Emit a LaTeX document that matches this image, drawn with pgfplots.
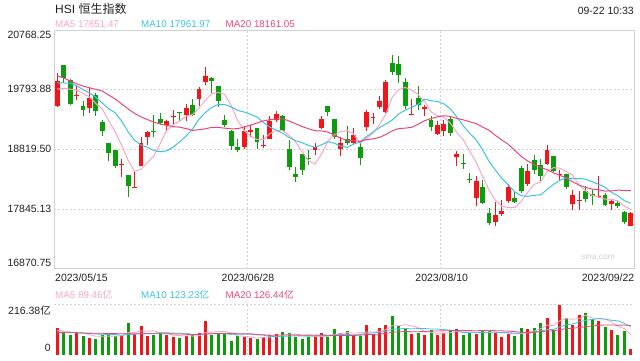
\documentclass[border=0pt]{standalone}
\usepackage{pgfplots}
\pgfplotsset{compat=1.18}
\usepackage{pgfplotstable}
\usepackage{fontspec}
\setmainfont{Liberation Sans}
\newfontfamily\cjk{Noto Sans CJK SC}
\definecolor{cup}{HTML}{F0161A}
\definecolor{cdn}{HTML}{0C9C0C}
\definecolor{cma5}{HTML}{F9A6C4}
\definecolor{cma10}{HTML}{3CC2E6}
\definecolor{cma20}{HTML}{E9477C}
\definecolor{cgrid}{HTML}{D2D2D2}
\definecolor{ctxt}{HTML}{222222}

% up (red) candles: index open high low close
\pgfplotstableread{
i O H L C
0 19521 20067 19505 19941
3 19700 19848 19631 19714
5 19495 19822 19413 19658
10 18560 18662 18362 18574
12 18190 18460 18190 18204
13 18553 19022 18541 18924
14 19015 19124 18896 19097
17 19222 19304 19097 19276
18 19352 19456 19239 19366
20 19374 19565 19276 19495
22 19642 19838 19521 19805
23 19913 20165 19876 20023
29 18852 19206 18830 19124
30 19097 19222 19022 19141
32 18876 19059 18842 18890
33 18994 19358 18994 19288
34 19293 19451 19260 19397
40 18803 18924 18732 18858
41 19168 19369 19152 19320
44 18826 19022 18705 18924
46 18924 19168 18912 19059
48 19178 19467 19113 19423
49 19334 19413 19239 19348
50 19505 19685 19479 19614
51 19423 19946 19413 19913
55 19384 19647 19384 19398
57 19479 19549 19358 19511
59 19071 19276 19059 19222
60 19124 19304 19031 19239
62 18695 18786 18553 18749
65 18025 18390 17900 18308
68 17627 17954 17562 17753
69 17764 17998 17725 17818
70 17981 18254 17944 18199
73 18259 18581 18226 18471
76 18586 18896 18569 18814
78 18394 18488 18324 18422
80 17932 18161 17834 18079
81 17982 18133 17834 17996
84 18042 18378 18025 18063
86 17932 17998 17823 17970
89 17573 17790 17562 17780
}\up

% down (green) candles
\pgfplotstableread{
i O H L C
1 20191 20202 19908 19985
2 19957 19969 19538 19565
4 19533 19603 19358 19456
6 19701 19740 19369 19440
7 19266 19293 19043 19113
8 18924 18924 18623 18760
9 18814 18814 18515 18541
11 18401 18401 18042 18226
15 19120 19374 19022 19106
16 19320 19413 19222 19250
19 19435 19435 19276 19413
21 19549 19642 19358 19386
24 19985 20001 19740 19929
25 19859 19859 19511 19603
26 19304 19374 19178 19222
27 19124 19141 18803 18879
28 18852 18994 18770 18814
31 19168 19168 18830 18933
35 19358 19386 19113 19124
36 18830 18977 18476 18532
37 18422 18532 18280 18362
38 18749 18749 18406 18488
39 18670 18814 18569 18656
42 19533 19533 19369 19423
43 19320 19320 18989 19022
45 18989 19206 18896 18924
47 18858 18924 18558 18679
52 20230 20365 20039 20076
53 20219 20338 19903 20027
54 19913 19985 19479 19521
56 19658 19859 19467 19549
58 19304 19369 19113 19178
61 19320 19358 19043 19087
63 18592 18744 18504 18578
64 18341 18434 18270 18313
66 18199 18324 17932 17944
67 17780 17862 17589 17617
71 18025 18133 17944 17954
72 18515 18553 18107 18133
74 18651 18732 18422 18476
75 18569 18662 18308 18378
77 18716 18716 18443 18460
79 18422 18422 18172 18205
82 18133 18215 17954 18009
83 18096 18161 17916 18052
85 18068 18107 17900 17916
87 17944 17970 17862 17888
88 17790 17818 17606 17633
}\down

% price moving averages
\pgfplotstableread{
i m5 m10 m20
0 19805 19903 20022
1 19815 19903 19985
2 19800 19900 19935
3 19785 19860 19890
4 19732 19794 19852
5 19675 19740 19825
6 19566 19668 19798
7 19476 19576 19770
8 19285 19480 19705
9 19102 19417 19640
10 18885 19280 19560
11 18642 19104 19480
12 18460 18968 19405
13 18492 18889 19350
14 18604 18853 19305
15 18711 18798 19262
16 18916 18779 19232
17 19131 18795 19210
18 19218 18855 19190
19 19282 18943 19180
20 19359 19035 19158
21 19386 19151 19128
22 19492 19312 19140
23 19624 19421 19155
24 19728 19505 19179
25 19749 19554 19176
26 19716 19551 19165
27 19531 19512 19154
28 19289 19457 19156
29 19128 19428 19185
30 19036 19393 19214
31 18978 19347 19249
32 18980 19256 19284
33 19075 19182 19302
34 19129 19129 19317
35 19126 19081 19318
36 19046 19012 19282
37 18941 18960 19236
38 18781 18928 19192
39 18634 18882 19155
40 18580 18853 19123
41 18738 18892 19120
42 18950 18945 19101
43 19057 18919 19051
44 19109 18872 19000
45 19123 18852 18966
46 19070 18904 18958
47 18922 18936 18948
48 19002 19029 18979
49 19086 19098 18990
50 19224 19173 19013
51 19395 19233 19062
52 19674 19298 19122
53 19795 19399 19159
54 19830 19458 19165
55 19787 19506 19179
56 19714 19555 19229
57 19601 19638 19287
58 19431 19613 19321
59 19371 19601 19349
60 19340 19563 19368
61 19247 19481 19357
62 19095 19348 19323
63 18976 19203 19301
64 18794 19083 19270
65 18608 18974 19240
66 18379 18813 19184
67 18153 18624 19131
68 17987 18481 19047
69 17888 18341 18971
70 17866 18237 18900
71 17868 18124 18802
72 17971 18062 18705
73 18115 18051 18627
74 18247 18067 18575
75 18282 18074 18524
76 18454 18161 18487
77 18520 18246 18435
78 18510 18313 18397
79 18456 18351 18346
80 18396 18339 18288
81 18231 18343 18233
82 18141 18331 18196
83 18067 18289 18170
84 18039 18247 18157
85 18006 18201 18138
86 18002 18117 18139
87 17978 18060 18153
88 17894 17981 18147
89 17837 17938 18145
}\ma

% volume (100 million), up days
\pgfplotstableread{
i v
0 114.5
3 91.9
5 73.5
10 80.6
12 89.0
13 123.0
14 80.6
17 84.8
18 77.7
20 80.6
22 91.9
23 144.2
29 77.7
30 73.5
32 74.9
33 83.4
34 89.0
40 77.7
41 94.7
44 91.9
46 84.8
48 127.2
49 87.6
50 114.5
51 127.2
55 89.0
57 84.8
59 84.8
60 91.9
62 110.2
65 89.0
68 94.7
69 76.3
70 89.0
73 110.2
76 156.9
78 212.0
80 127.2
81 169.6
84 144.2
86 106.0
89 25.4
}\vup

% volume, down days
\pgfplotstableread{
i v
1 96.1
2 84.8
4 80.6
6 67.8
7 84.8
8 93.3
9 80.6
11 135.7
15 84.8
16 91.9
19 72.1
21 84.8
24 84.8
25 89.0
26 91.9
27 59.4
28 80.6
31 67.8
35 99.0
36 93.3
37 76.3
38 67.8
39 76.3
42 77.7
43 110.2
45 101.8
47 82.0
52 165.4
53 124.4
54 110.2
56 93.3
58 106.0
61 106.0
63 84.8
64 94.7
66 103.2
67 103.2
71 80.6
72 114.5
74 114.5
75 137.1
77 106.0
79 156.9
82 179.5
83 151.3
85 120.2
87 84.8
88 103.2
}\vdn

% volume moving averages
\pgfplotstableread{
i v5 v10 v20
0 105.0 98.0 95.0
1 102.0 97.0 95.0
2 98.0 96.0 94.0
3 95.0 95.0 94.0
4 93.6 93.0 93.0
5 85.4 91.0 93.0
6 79.7 89.0 92.0
7 79.7 88.0 92.0
8 80.0 87.0 91.0
9 80.0 86.8 91.0
10 81.4 83.4 90.0
11 95.0 87.4 90.0
12 95.8 87.8 90.0
13 101.8 90.9 90.0
14 101.8 90.9 90.0
15 102.6 92.0 90.0
16 93.9 94.4 90.0
17 93.0 94.4 90.0
18 84.0 92.9 89.5
19 82.3 92.0 89.4
20 81.4 92.0 87.7
21 80.0 86.9 87.2
22 81.4 87.2 87.5
23 94.7 89.3 90.1
24 97.3 89.8 90.4
25 98.9 90.2 91.1
26 100.4 90.2 92.3
27 93.9 87.6 91.0
28 81.1 87.9 90.4
29 79.7 88.5 90.3
30 76.6 87.8 89.9
31 71.8 86.1 86.5
32 74.9 84.4 85.8
33 75.5 78.3 83.8
34 77.7 78.7 84.3
35 82.8 79.7 85.0
36 87.9 79.9 85.1
37 88.2 81.6 84.6
38 85.1 80.3 84.1
39 82.5 80.1 84.3
40 78.3 80.6 84.2
41 78.6 83.2 84.7
42 78.8 83.5 84.0
43 87.3 86.2 82.3
44 90.4 86.5 82.6
45 95.3 86.8 83.3
46 93.3 85.9 82.9
47 94.1 86.5 84.1
48 97.5 92.4 86.4
49 96.7 93.6 86.9
50 99.2 97.2 88.9
51 107.7 100.5 91.9
52 124.4 109.3 96.4
53 123.8 110.7 98.5
54 128.3 112.5 99.5
55 123.2 111.2 99.0
56 116.5 112.1 99.0
57 100.3 112.4 99.5
58 96.7 110.2 101.3
59 91.6 110.0 101.8
60 92.2 107.7 102.5
61 94.7 105.6 103.1
62 99.8 100.1 104.7
63 95.5 96.1 103.4
64 97.5 94.6 103.6
65 96.9 94.6 102.9
66 96.4 95.5 103.8
67 95.0 97.4 104.9
68 97.0 96.3 103.3
69 93.3 95.4 102.7
70 93.3 95.1 101.4
71 88.8 92.6 99.1
72 91.0 93.0 96.6
73 94.1 95.5 95.8
74 101.8 97.5 96.1
75 111.4 102.3 98.5
76 126.6 107.7 101.6
77 124.9 108.0 102.7
78 145.3 119.7 108.0
79 153.8 127.8 111.6
80 151.8 131.6 113.4
81 154.3 140.5 116.6
82 169.0 147.0 120.0
83 156.9 151.1 123.3
84 154.4 154.1 125.8
85 153.0 152.4 127.4
86 140.2 147.3 127.5
87 121.3 145.2 126.6
88 111.7 134.3 127.0
89 87.9 121.1 124.5
}\vma

\pgfplotsset{
  panel/.style={
    scale only axis, anchor=south west,
    xmin=-0.5, xmax=89.5,
    xtick={29.5,59.5},
    xticklabels={,,}, yticklabels={,,,},
    tick label style={opacity=0},
    major tick length=0pt,
    scaled y ticks=false, scaled x ticks=false,
    xmajorgrids, ymajorgrids,
    grid style={draw=cgrid, line width=0.9pt, dash pattern=on 2pt off 2pt},
  },
  wick/.style={draw=none, mark=none, forget plot,
    error bars/.cd, y dir=plus, y explicit, error mark=none,
    error bar style={draw=#1, line width=0.9pt, solid}},
  body/.style={draw=none, mark=none, forget plot,
    error bars/.cd, y dir=plus, y explicit, error mark=none,
    error bar style={draw=#1, line width=4.8pt, solid}},
}

\begin{document}
\begin{tikzpicture}[x=1pt,y=1pt]
\useasboundingbox (0,0) rectangle (640,360);

% price panel
\begin{axis}[panel,
  at={(54pt,91.4pt)}, width=580pt, height=238.6pt,
  ymin=16870.75, ymax=20768.25,
  ytick={17845.13,18819.50,19793.88},
  axis line style={draw=cgrid, line width=0.9pt},
]
\addplot[wick=cup] table[x=i, y=L, y error plus expr=\thisrow{H}-\thisrow{L}] {\up};
\addplot[wick=cdn] table[x=i, y=L, y error plus expr=\thisrow{H}-\thisrow{L}] {\down};
\addplot[body=cup] table[x=i, y=O, y error plus expr=\thisrow{C}-\thisrow{O}] {\up};
\addplot[body=cdn] table[x=i, y=C, y error plus expr=\thisrow{O}-\thisrow{C}] {\down};
\addplot[cma5, line width=1pt, mark=none] table[x=i, y=m5] {\ma};
\addplot[cma10, line width=1pt, mark=none] table[x=i, y=m10] {\ma};
\addplot[cma20, line width=1pt, mark=none] table[x=i, y=m20] {\ma};
\end{axis}

% volume panel
\begin{axis}[panel,
  at={(54pt,5pt)}, width=580pt, height=51pt,
  ymin=0, ymax=216.38,
  ytick={216.38},
  axis line style={draw=none},
]
\addplot[ycomb, cup, line width=3pt, mark=none] table[x=i, y=v] {\vup};
\addplot[ycomb, cdn, line width=3pt, mark=none] table[x=i, y=v] {\vdn};
\addplot[cma5, line width=0.8pt, mark=none] table[x=i, y=v5] {\vma};
\addplot[cma10, line width=0.8pt, mark=none] table[x=i, y=v10] {\vma};
\addplot[cma20, line width=0.8pt, mark=none] table[x=i, y=v20] {\vma};
\end{axis}

% texts
\begin{scope}[every node/.style={inner sep=0pt, text=ctxt}]
\node[anchor=west, font=\fontsize{12}{14}\selectfont] at (55,351.5) {HSI {\cjk 恒生指数}};
\node[anchor=east, font=\fontsize{10.5}{12}\selectfont] at (634,348.8) {09-22 10:33};

\node[anchor=west, text=cma5, font=\fontsize{9.8}{12}\selectfont] at (55,336) {MA5 17851.47};
\node[anchor=west, text=cma10, font=\fontsize{9.8}{12}\selectfont] at (141,336) {MA10 17961.97};
\node[anchor=west, text=cma20, font=\fontsize{9.8}{12}\selectfont] at (225.5,336) {MA20 18161.05};

\begin{scope}[every node/.append style={anchor=east, font=\fontsize{10.5}{12}\selectfont}]
\node at (51.5,325.3) {20768.25};
\node at (51.5,271) {19793.88};
\node at (51.5,211) {18819.50};
\node at (51.5,151) {17845.13};
\node at (51.5,97) {16870.75};
\node at (51,49) {216.38{\cjk 亿}};
\node at (51,11.7) {0};
\end{scope}

\begin{scope}[every node/.append style={font=\fontsize{10.5}{12}\selectfont}]
\node[anchor=west] at (55,82.2) {2023/05/15};
\node[anchor=center] at (248,82.2) {2023/06/28};
\node[anchor=center] at (441.7,82.2) {2023/08/10};
\node[anchor=east] at (634.5,82.2) {2023/09/22};
\end{scope}

\node[anchor=west, text=cma5, font=\fontsize{9.8}{12}\selectfont] at (55,65.2) {MA5 89.46{\cjk 亿}};
\node[anchor=west, text=cma10, font=\fontsize{9.8}{12}\selectfont] at (141,65.2) {MA10 123.23{\cjk 亿}};
\node[anchor=west, text=cma20, font=\fontsize{9.8}{12}\selectfont] at (225.5,65.2) {MA20 126.44{\cjk 亿}};

\node[anchor=center, text=black!18, font=\fontsize{8.5}{10}\selectfont] at (598,104) {sina.com};
\end{scope}
\end{tikzpicture}
\end{document}
